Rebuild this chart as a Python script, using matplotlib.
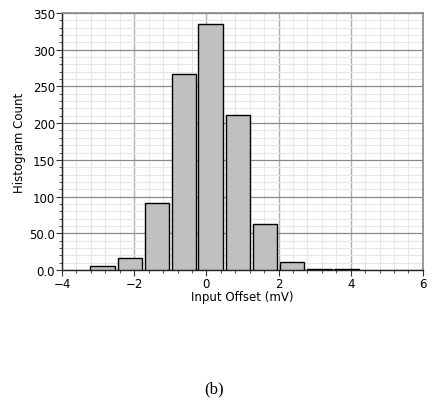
import numpy as np
import matplotlib
matplotlib.use("Agg")
import matplotlib.pyplot as plt
from matplotlib.ticker import MultipleLocator

# Histogram of input offset (mV)
bin_centers = [-2.88, -2.12, -1.37, -0.62, 0.12, 0.88, 1.63, 2.37, 3.13, 3.88]
counts = [6, 16, 91, 267, 335, 211, 63, 11, 1.5, 1.5]
bar_width = 0.68

x_ticks = [-4, -2, 0, 2, 4, 6]
x_labels = ["\u22124", "\u22122", "0", "2", "4", "6"]
y_ticks = [0, 50, 100, 150, 200, 250, 300, 350]
y_labels = ["0.0", "50.0", "100", "150", "200", "250", "300", "350"]

plt.rcParams["font.family"] = "DejaVu Sans"
plt.rcParams["font.size"] = 8.5

fig = plt.figure(figsize=(4.28, 4.06), dpi=100)
ax = fig.add_axes([0.145, 0.3325, 0.843, 0.633])

ax.bar(bin_centers, counts, bar_width, color="#c0c0c0", edgecolor="black",
       linewidth=1.0, zorder=3)

ax.set_xlim(-4, 6)
ax.set_ylim(0, 350)
ax.set_xticks(x_ticks)
ax.set_xticklabels(x_labels)
ax.set_yticks(y_ticks)
ax.set_yticklabels(y_labels)
ax.xaxis.set_minor_locator(MultipleLocator(0.4))
ax.yaxis.set_minor_locator(MultipleLocator(10))

ax.grid(which="minor", color="#e6e6e6", linewidth=0.8, zorder=0)
ax.grid(which="major", axis="x", color="#b0b0b0", linewidth=1.0, zorder=1)
ax.grid(which="major", axis="y", color="#8a8a8a", linewidth=0.9, zorder=1)

ax.tick_params(which="major", direction="out", length=4, width=0.8, pad=1,
               colors="#333333", labelcolor="black")
ax.tick_params(which="minor", direction="out", length=2, width=0.6,
               colors="#333333")

for side in ["left", "bottom"]:
    ax.spines[side].set_color("#222222")
    ax.spines[side].set_linewidth(1.0)
for side in ["top", "right"]:
    ax.spines[side].set_color("#8a8a8a")
    ax.spines[side].set_linewidth(1.2)

ax.set_xlabel("Input Offset (mV)", labelpad=0)
ax.set_ylabel("Histogram Count", labelpad=2)

fig.text(0.5, 0.02, "(b)", ha="center", va="bottom",
         family="Liberation Serif", fontsize=12)

fig.savefig("out.png", dpi=100)
